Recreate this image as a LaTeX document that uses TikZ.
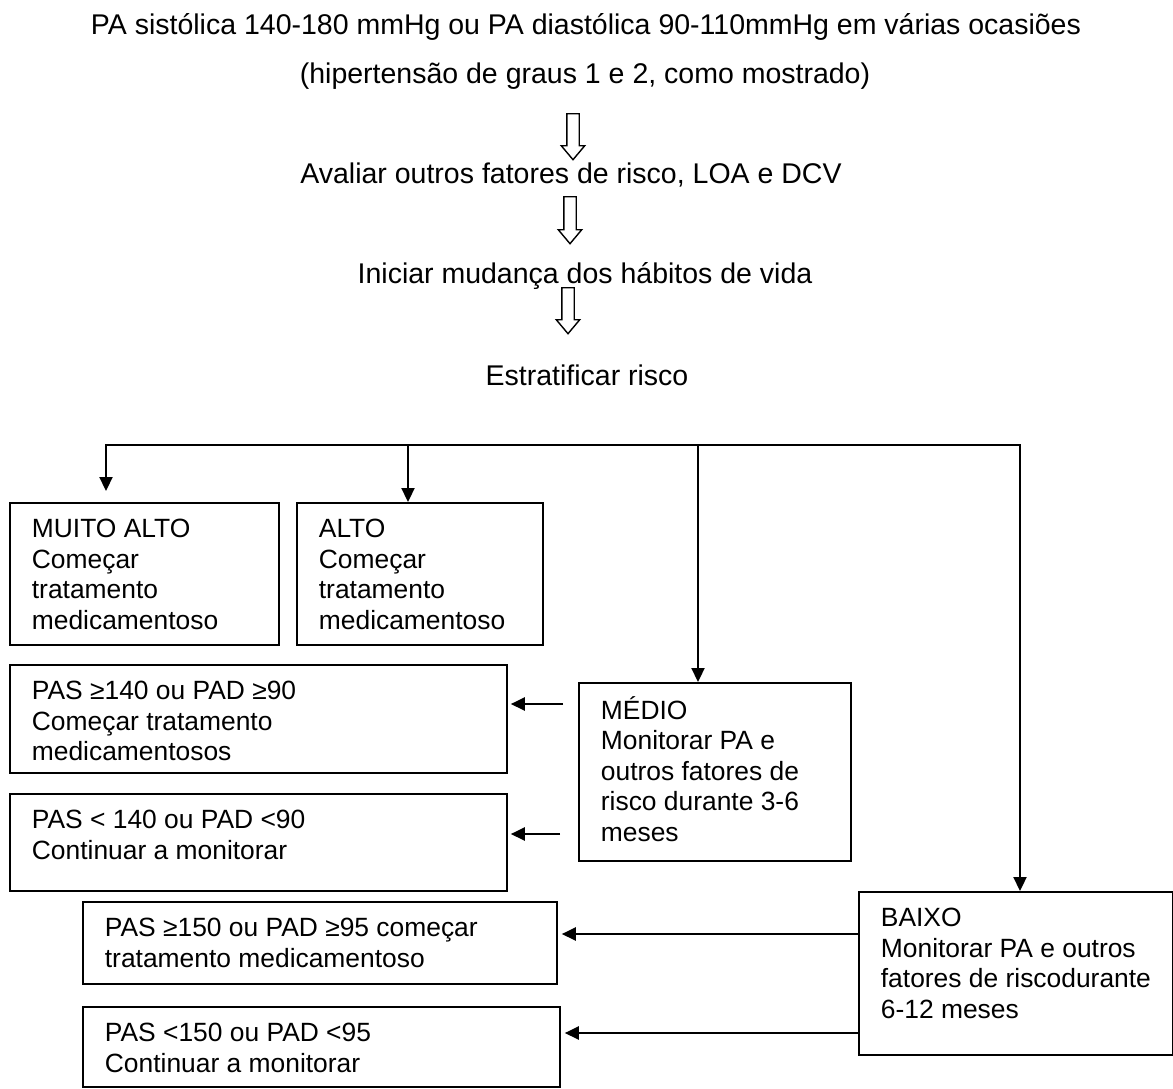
\documentclass[tikz,border=0pt]{standalone}
\usepackage{fontspec}
\setmainfont{Liberation Sans}
\usetikzlibrary{arrows.meta,shapes.arrows}

\newcommand{\headfont}{\fontsize{28.5}{32.8}\selectfont}
\newcommand{\boxfont}{\fontsize{26.4}{30.5}\selectfont}
% box text: width, height, lines
\newcommand{\boxtxt}[3]{\parbox[t][#2pt][t]{#1pt}{\raggedright\leftskip=22pt\strut#3}}

\tikzset{
	headline/.style={anchor=base, font=\headfont, inner sep=0pt},
	hollow/.style={single arrow, draw, fill=white, line width=1.4pt, rotate=-90, minimum width=22pt, inner xsep=0pt, inner ysep=5.5pt, single arrow head extend=5.5pt, single arrow tip angle=80},
	riskbox/.style={draw, line width=1.8pt, anchor=north west, inner xsep=0pt, inner ysep=13.6pt, font=\boxfont},
	tree/.style={line width=2.2pt},
	flow/.style={tree, -{Triangle[length=14pt,width=13pt]}}
}

\begin{document}
\begin{tikzpicture}[x=1pt,y=-1pt]
	\useasboundingbox (0,0) rectangle (1173,1088);
	% steps on top
	\node[headline] (pa) at (586,34) {PA sistólica 140-180 mmHg ou PA diastólica 90-110mmHg em várias ocasiões};
	\node[headline] (graus) at (585,83) {(hipertensão de graus 1 e 2, como mostrado)};
	\node[headline] (avaliar) at (571,183) {Avaliar outros fatores de risco, LOA e DCV};
	\node[headline] (iniciar) at (585,283) {Iniciar mudança dos hábitos de vida};
	\node[headline] (estrat) at (587,385) {Estratificar risco};
	\node[hollow, minimum height=46pt] (arr1) at (573,133) {};
	\node[hollow, minimum height=47pt] (arr2) at (570,216.5) {};
	\node[hollow, minimum height=46pt] (arr3) at (568,307) {};
	% risk boxes
	\node[riskbox] (muito) at (9,502) {\boxtxt{269}{114.8}{MUITO ALTO\\Começar\\tratamento\\medicamentoso}};
	\node[riskbox] (alto) at (296,502) {\boxtxt{246}{114.8}{ALTO\\Começar\\tratamento\\medicamentoso}};
	\node[riskbox] (pasA) at (9,664) {\boxtxt{497}{80.8}{PAS ≥140 ou PAD ≥90\\Começar tratamento\\medicamentosos}};
	\node[riskbox] (pasB) at (9,793) {\boxtxt{497}{69.8}{PAS < 140 ou PAD <90\\Continuar a monitorar}};
	\node[riskbox] (medio) at (578,682) {\boxtxt{272}{150.8}{MÉDIO\\Monitorar PA e\\outros fatores de\\risco durante 3-6\\meses}};
	\node[riskbox] (baixo) at (858,891) {\boxtxt{314}{135.8}{BAIXO\\Monitorar PA e outros\\fatores de riscodurante\\6-12 meses}};
	\node[riskbox] (pasC) at (82,901) {\boxtxt{474}{54.8}{PAS ≥150 ou PAD ≥95 começar\\tratamento medicamentoso}};
	\node[riskbox] (pasD) at (82,1006) {\boxtxt{477}{52.8}{PAS <150 ou PAD <95\\Continuar a monitorar}};
	% split line
	\coordinate (jA) at (106,445);
	\coordinate (jB) at (408,445);
	\coordinate (jC) at (698,445);
	\coordinate (jD) at (1020,445);
	\draw[tree, line cap=rect] (jA) -- (jD);
	\draw[flow, shorten >=11pt] (jA) -- (jA |- muito.north);
	\draw[flow] (jB) -- (jB |- alto.north);
	\draw[flow] (jC) -- (jC |- medio.north);
	\draw[flow] (jD) -- (jD |- baixo.north);
	% side arrows
	\coordinate (yA) at (0,704);
	\coordinate (yB) at (0,834);
	\coordinate (yC) at (0,934);
	\coordinate (yD) at (0,1033);
	\draw[flow, shorten <=15pt, shorten >=3pt] (medio.west |- yA) -- (pasA.east |- yA);
	\draw[flow, shorten <=18pt, shorten >=3pt] (medio.west |- yB) -- (pasB.east |- yB);
	\draw[flow, shorten >=4pt] (baixo.west |- yC) -- (pasC.east |- yC);
	\draw[flow, shorten >=4pt] (baixo.west |- yD) -- (pasD.east |- yD);
\end{tikzpicture}
\end{document}
